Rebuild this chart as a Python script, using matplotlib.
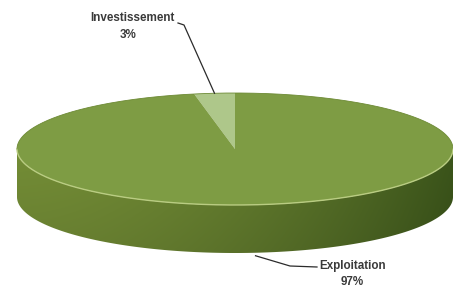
import numpy as np
import matplotlib
matplotlib.use("Agg")
import matplotlib.pyplot as plt
from matplotlib.patches import Polygon
from matplotlib.colors import to_rgb

labels = ["Investissement", "Exploitation"]
values = [3, 97]
pct_labels = ["3%", "97%"]
top_colors = ["#aec78a", "#7e9c44"]

# pie geometry in pixel coords (y down)
cx, cy, a, b, depth = 235, 149, 218, 56, 48

def ell(t_deg, dy=0):
    t = np.radians(t_deg)
    return np.column_stack([cx + a * np.cos(t), cy - b * np.sin(t) + dy])

fig = plt.figure(figsize=(4.53, 2.88), dpi=100)
ax = fig.add_axes([0, 0, 1, 1])
ax.set_xlim(0, 453)
ax.set_ylim(288, 0)
ax.axis("off")

# side band (front half) with a gradient
t_front = np.linspace(180, 360, 200)
side = np.vstack([ell(t_front), ell(t_front[::-1], depth)])
side_patch = Polygon(side, closed=True, facecolor="none", edgecolor="none")
ax.add_patch(side_patch)
xs = np.linspace(0, 1, 300)
ys = np.linspace(0, 1, 100)
X, Y = np.meshgrid(xs, ys)
left = np.array(to_rgb("#7a9539"))
right = np.array(to_rgb("#3f5a1c"))
grad = left[None, None, :] * (1 - X[..., None] ** 1.8) + right[None, None, :] * X[..., None] ** 1.8
grad = grad * (1 - 0.15 * Y[..., None])
im = ax.imshow(np.clip(grad, 0, 1), extent=[cx - a, cx + a, cy + b + depth, cy - b],
               aspect="auto", zorder=2, interpolation="bilinear")
im.set_clip_path(side_patch)

# top face slices
start = 90.0
mids = []
for val, col in zip(values, top_colors):
    span = val / sum(values) * 360
    t = np.linspace(start, start + span, max(int(span), 2) * 2)
    pts = np.vstack([[cx, cy], ell(t)])
    ax.add_patch(Polygon(pts, closed=True, facecolor=col, edgecolor="none", zorder=3))
    mids.append(start + span / 2)
    start += span

# rim highlight along the front edge
rim = ell(t_front)
ax.plot(rim[:, 0], rim[:, 1], color="#b9cc82", lw=1.0, zorder=4)
back = ell(np.linspace(0, 180, 200))
ax.plot(back[:, 0], back[:, 1], color="#6d8a35", lw=0.6, zorder=4)

# labels with leader lines
lab_font = dict(family=["Liberation Sans", "DejaVu Sans"], fontsize=8.4,
                fontweight="bold", color="#3a3a3a", ha="center", va="center", zorder=6)

p0 = ell([mids[0]])[0]
ax.plot([178, 184, p0[0]], [23, 25, p0[1]], color="#2b2b2b", lw=0.9, zorder=5)
ax.text(132, 18, labels[0], **lab_font)
ax.text(128, 35, pct_labels[0], **lab_font)

p1 = ell([mids[1]], depth)[0]
ax.plot([p1[0], 290, 317], [p1[1] + 3, 266, 267], color="#2b2b2b", lw=0.9, zorder=5)
ax.text(353, 266, labels[1], **lab_font)
ax.text(352, 282, pct_labels[1], **lab_font)

fig.savefig("out.png", dpi=100)
